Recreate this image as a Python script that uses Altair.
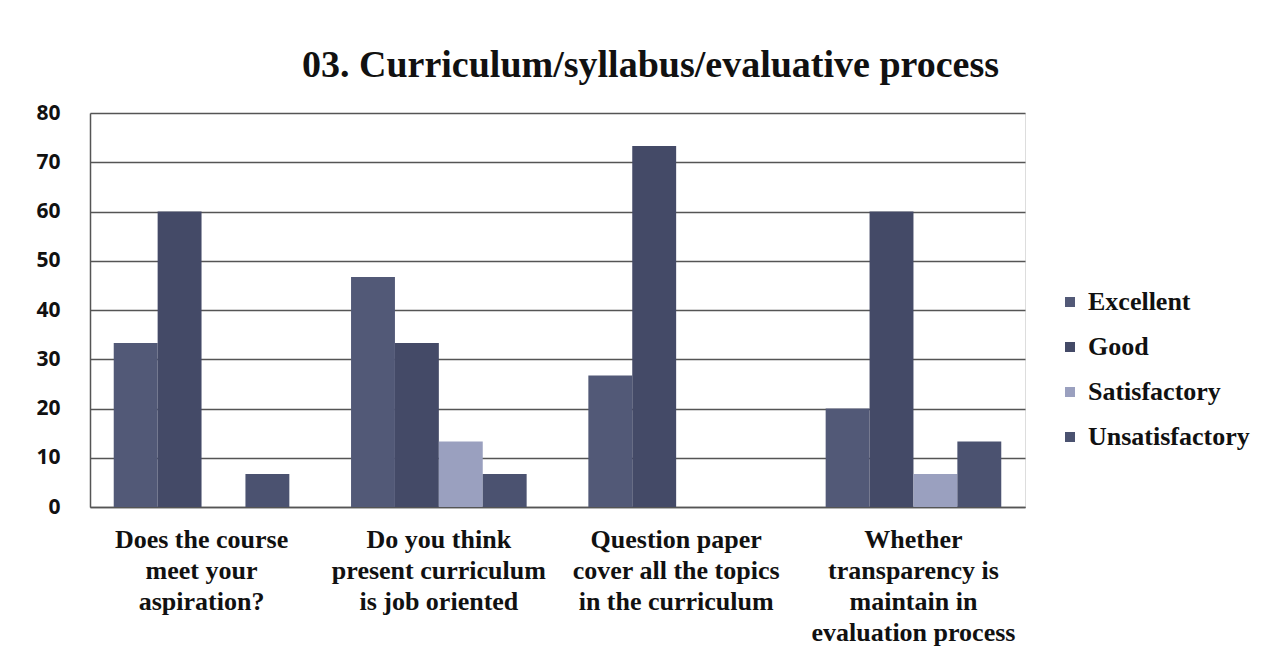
import altair as alt
import pandas as pd

categories = [
    "Does the course|meet your|aspiration?",
    "Do you think|present curriculum|is job oriented",
    "Question paper|cover all the topics|in the curriculum",
    "Whether|transparency is|maintain in|evaluation process",
]
series = ["Excellent", "Good", "Satisfactory", "Unsatisfactory"]
excellent = [33.3, 46.7, 26.7, 20.0]
good = [60.0, 33.3, 73.3, 60.0]
satisfactory = [0.0, 13.3, 0.0, 6.7]
unsatisfactory = [6.7, 6.7, 0.0, 13.3]
colors = ["#525977", "#444a67", "#9aa0bf", "#4b5270"]

rows = []
for i, c in enumerate(categories):
    for s, vals in zip(series, [excellent, good, satisfactory, unsatisfactory]):
        rows.append({"category": c, "series": s, "value": vals[i]})
df = pd.DataFrame(rows)

chart = alt.Chart(df).mark_bar().encode(
    x=alt.X("category:N", sort=categories,
            scale=alt.Scale(paddingInner=0.26, paddingOuter=0.1),
            axis=alt.Axis(title=None, labelAngle=0, labelExpr="split(datum.label, '|')",
                          labelFont="Liberation Serif", labelFontSize=26, labelFontWeight="bold",
                          labelColor="#111", labelLineHeight=31, labelPadding=19,
                          labelLimit=0, labelOverlap=False,
                          ticks=False, domain=True, domainColor="#555", domainWidth=1.5,
                          labelBaseline="top")),
    xOffset=alt.XOffset("series:N", sort=series),
    y=alt.Y("value:Q", scale=alt.Scale(domain=[0, 80]),
            axis=alt.Axis(title=None, values=[0, 10, 20, 30, 40, 50, 60, 70, 80],
                          labelFont="Noto Sans", labelFontSize=21, labelFontWeight="bold",
                          labelColor="#111", labelPadding=30, ticks=False,
                          domain=True, domainColor="#555", domainWidth=1.5,
                          grid=True, gridColor="#555", gridWidth=1.5)),
    color=alt.Color("series:N", sort=series,
                    scale=alt.Scale(domain=series, range=colors),
                    legend=alt.Legend(title=None, orient="none", legendX=967, legendY=176,
                                      symbolType="square", symbolSize=100, symbolStrokeWidth=0,
                                      labelFont="Liberation Serif", labelFontSize=26,
                                      labelFontWeight="bold", labelColor="#111",
                                      labelLimit=0,
                                      rowPadding=19, labelOffset=5)),
).properties(
    width=935,
    height=394,
    title=alt.TitleParams("03. Curriculum/syllabus/evaluative process",
                          font="Liberation Serif", fontSize=38, fontWeight="bold",
                          color="#111", offset=17, anchor="middle", dx=93),
    autosize=alt.AutoSizeParams(type="none"),
    padding={"left": 82, "top": 105, "right": 231, "bottom": 140},
).configure_view(stroke=None).configure(background="white")

chart.save("out.html", embed_options={"renderer": "svg", "actions": False})
